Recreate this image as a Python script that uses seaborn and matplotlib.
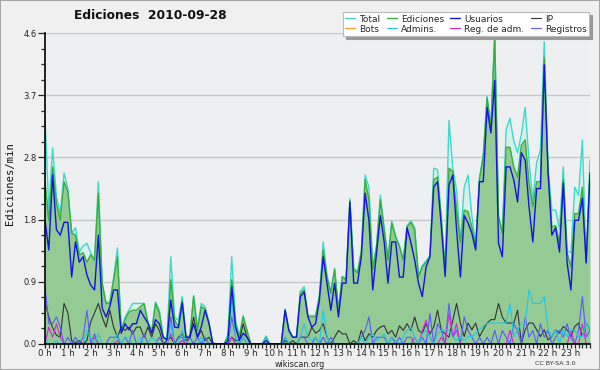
import numpy as np
import pandas as pd
import matplotlib
matplotlib.use("Agg")
import matplotlib.pyplot as plt
from matplotlib.patches import Rectangle
from matplotlib.ticker import FixedLocator, MultipleLocator
import seaborn as sns

# ---------------- data (one value every 10 minutes, 144 points) ----------------
hour_labels = [f"{h} h" for h in range(24)]

total = [3.35, 2.00, 2.90, 2.18, 1.93, 2.53, 2.30, 1.64, 1.72, 1.36,
         1.45, 1.49, 1.35, 1.24, 2.40, 0.90, 0.62, 0.62, 0.98, 1.42,
         0.20, 0.40, 0.50, 0.60, 0.60, 0.60, 0.60, 0.33, 0.20, 0.62,
         0.50, 0.12, 0.06, 1.29, 0.40, 0.35, 0.70, 0.12, 0.12, 0.72,
         0.22, 0.60, 0.55, 0.33, 0.02, 0.00, 0.00, 0.00, 0.15, 1.29,
         0.35, 0.12, 0.42, 0.20, 0.00, 0.00, 0.00, 0.00, 0.12, 0.00,
         0.00, 0.00, 0.00, 0.52, 0.22, 0.10, 0.12, 0.78, 0.85, 0.42,
         0.42, 0.42, 0.72, 1.51, 1.00, 0.78, 1.12, 0.52, 1.00, 0.97,
         2.15, 1.12, 1.07, 1.38, 2.50, 2.32, 1.12, 1.46, 2.20, 1.72,
         1.26, 1.82, 1.60, 1.46, 1.26, 1.75, 1.82, 1.72, 1.01, 1.16,
         1.23, 1.31, 2.60, 2.58, 1.86, 1.15, 3.31, 2.60, 2.28, 1.52,
         2.32, 2.50, 1.90, 1.46, 2.46, 2.80, 3.66, 3.23, 4.60, 1.90,
         1.66, 3.17, 3.34, 3.00, 2.83, 3.10, 3.50, 2.70, 2.13, 2.68,
         2.87, 4.47, 2.60, 1.98, 1.98, 1.70, 2.62, 1.38, 1.35, 2.32,
         2.20, 3.02, 1.22, 2.72]

ediciones = [2.40, 1.83, 2.62, 2.08, 1.83, 2.40, 2.25, 1.64, 1.61, 1.32,
             1.35, 1.21, 1.32, 1.24, 2.23, 0.90, 0.60, 0.60, 0.95, 1.29,
             0.20, 0.36, 0.47, 0.50, 0.50, 0.55, 0.60, 0.31, 0.16, 0.60,
             0.46, 0.10, 0.06, 0.95, 0.36, 0.25, 0.65, 0.10, 0.10, 0.70,
             0.20, 0.55, 0.52, 0.31, 0.01, 0.00, 0.00, 0.00, 0.10, 0.95,
             0.30, 0.10, 0.40, 0.20, 0.00, 0.00, 0.00, 0.00, 0.10, 0.00,
             0.00, 0.00, 0.00, 0.50, 0.20, 0.10, 0.10, 0.75, 0.80, 0.40,
             0.40, 0.40, 0.70, 1.39, 0.99, 0.75, 1.10, 0.50, 0.99, 0.95,
             2.12, 1.10, 1.05, 1.35, 2.43, 2.13, 1.10, 1.44, 2.13, 1.69,
             1.24, 1.79, 1.58, 1.44, 1.24, 1.73, 1.80, 1.69, 0.99, 1.14,
             1.21, 1.29, 2.43, 2.47, 1.83, 1.10, 2.60, 2.55, 1.98, 1.50,
             1.98, 1.96, 1.73, 1.44, 2.43, 2.77, 3.64, 3.21, 4.54, 1.88,
             1.64, 2.91, 2.91, 2.62, 2.47, 2.94, 3.02, 2.38, 2.03, 2.40,
             2.40, 4.23, 2.57, 1.73, 1.75, 1.49, 2.43, 1.35, 1.14, 1.93,
             1.93, 2.32, 1.20, 2.53]

usuarios = [1.83, 1.39, 2.50, 1.69, 1.61, 1.80, 1.80, 0.99, 1.51, 1.21,
            1.29, 1.02, 0.87, 0.80, 1.61, 0.53, 0.40, 0.55, 0.80, 0.80,
            0.16, 0.30, 0.21, 0.30, 0.30, 0.50, 0.40, 0.31, 0.16, 0.36,
            0.30, 0.10, 0.06, 0.65, 0.25, 0.24, 0.61, 0.10, 0.10, 0.30,
            0.10, 0.25, 0.50, 0.31, 0.01, 0.00, 0.00, 0.00, 0.05, 0.85,
            0.25, 0.06, 0.16, 0.10, 0.00, 0.00, 0.00, 0.00, 0.05, 0.00,
            0.00, 0.00, 0.00, 0.50, 0.20, 0.10, 0.10, 0.70, 0.77, 0.40,
            0.25, 0.30, 0.65, 1.29, 0.90, 0.50, 0.90, 0.40, 0.90, 0.90,
            2.10, 0.90, 0.90, 1.29, 2.23, 1.83, 0.80, 1.35, 1.90, 1.51,
            0.90, 1.51, 1.51, 0.99, 0.99, 1.72, 1.50, 1.24, 0.90, 0.70,
            1.14, 1.29, 2.32, 2.40, 1.73, 1.00, 2.35, 2.50, 1.69, 0.99,
            1.90, 1.79, 1.64, 1.39, 2.40, 2.40, 3.50, 3.12, 3.90, 1.49,
            1.29, 2.62, 2.62, 2.43, 2.10, 2.83, 2.72, 2.03, 1.51, 2.30,
            2.30, 4.13, 2.53, 1.61, 1.72, 1.36, 2.38, 1.20, 0.80, 1.83,
            1.83, 2.16, 1.20, 2.53]

ip = [0.62, 0.40, 0.24, 0.13, 0.10, 0.60, 0.46, 0.05, 0.02, 0.05,
      0.00, 0.05, 0.33, 0.46, 0.60, 0.40, 0.25, 0.50, 0.25, 0.10,
      0.25, 0.20, 0.25, 0.15, 0.25, 0.25, 0.10, 0.25, 0.10, 0.30,
      0.20, 0.00, 0.05, 0.10, 0.00, 0.10, 0.15, 0.05, 0.10, 0.40,
      0.10, 0.20, 0.05, 0.10, 0.00, 0.00, 0.00, 0.00, 0.00, 0.10,
      0.05, 0.05, 0.30, 0.10, 0.00, 0.00, 0.00, 0.00, 0.00, 0.00,
      0.00, 0.00, 0.00, 0.05, 0.00, 0.05, 0.00, 0.10, 0.10, 0.10,
      0.25, 0.16, 0.20, 0.30, 0.10, 0.00, 0.10, 0.20, 0.15, 0.15,
      0.00, 0.05, 0.00, 0.20, 0.05, 0.15, 0.10, 0.20, 0.25, 0.27,
      0.15, 0.20, 0.10, 0.27, 0.20, 0.30, 0.20, 0.40, 0.20, 0.16,
      0.30, 0.15, 0.25, 0.50, 0.20, 0.15, 0.10, 0.35, 0.60, 0.31,
      0.11, 0.31, 0.21, 0.31, 0.11, 0.21, 0.31, 0.36, 0.36, 0.60,
      0.40, 0.31, 0.31, 0.31, 0.50, 0.01, 0.21, 0.31, 0.31, 0.21,
      0.11, 0.21, 0.06, 0.11, 0.21, 0.16, 0.26, 0.21, 0.11, 0.26,
      0.31, 0.11, 0.31, 0.21]

admins = [0.10, 0.00, 0.00, 0.05, 0.00, 0.00, 0.00, 0.00, 0.00, 0.00,
          0.00, 0.20, 0.10, 0.00, 0.15, 0.00, 0.00, 0.00, 0.05, 0.15,
          0.00, 0.10, 0.10, 0.00, 0.00, 0.10, 0.00, 0.00, 0.10, 0.05,
          0.00, 0.00, 0.00, 0.30, 0.00, 0.00, 0.20, 0.00, 0.00, 0.00,
          0.00, 0.10, 0.00, 0.00, 0.00, 0.00, 0.00, 0.00, 0.05, 0.70,
          0.10, 0.00, 0.10, 0.00, 0.00, 0.00, 0.00, 0.00, 0.10, 0.00,
          0.00, 0.00, 0.00, 0.10, 0.00, 0.00, 0.00, 0.10, 0.30, 0.10,
          0.05, 0.10, 0.00, 0.50, 0.10, 0.00, 0.00, 0.00, 0.00, 0.00,
          0.00, 0.00, 0.00, 0.10, 0.00, 0.10, 0.15, 0.05, 0.10, 0.15,
          0.00, 0.10, 0.05, 0.00, 0.10, 0.20, 0.25, 0.10, 0.00, 0.15,
          0.20, 0.10, 0.00, 0.15, 0.20, 0.21, 0.21, 0.10, 0.05, 0.11,
          0.05, 0.11, 0.11, 0.15, 0.21, 0.26, 0.31, 0.31, 0.31, 0.31,
          0.31, 0.31, 0.60, 0.11, 0.21, 0.31, 0.31, 0.80, 0.60, 0.60,
          0.60, 0.70, 0.21, 0.11, 0.21, 0.01, 0.21, 0.11, 0.21, 0.21,
          0.11, 0.11, 0.31, 0.21]

reg_adm = [0.00, 0.25, 0.10, 0.30, 0.10, 0.00, 0.00, 0.00, 0.00, 0.00,
           0.00, 0.00, 0.00, 0.10, 0.00, 0.00, 0.00, 0.00, 0.00, 0.05,
           0.00, 0.00, 0.00, 0.00, 0.00, 0.00, 0.00, 0.00, 0.00, 0.00,
           0.00, 0.00, 0.00, 0.15, 0.00, 0.00, 0.05, 0.00, 0.00, 0.00,
           0.00, 0.00, 0.00, 0.00, 0.00, 0.00, 0.00, 0.00, 0.00, 0.10,
           0.00, 0.00, 0.00, 0.00, 0.00, 0.00, 0.00, 0.00, 0.00, 0.00,
           0.00, 0.00, 0.00, 0.00, 0.00, 0.00, 0.00, 0.00, 0.00, 0.00,
           0.00, 0.00, 0.00, 0.00, 0.00, 0.00, 0.00, 0.00, 0.00, 0.00,
           0.00, 0.00, 0.00, 0.00, 0.00, 0.00, 0.00, 0.00, 0.00, 0.00,
           0.00, 0.00, 0.00, 0.00, 0.00, 0.00, 0.00, 0.10, 0.00, 0.20,
           0.35, 0.10, 0.00, 0.00, 0.10, 0.00, 0.45, 0.10, 0.30, 0.00,
           0.00, 0.00, 0.00, 0.00, 0.00, 0.00, 0.00, 0.00, 0.00, 0.00,
           0.00, 0.00, 0.20, 0.00, 0.00, 0.00, 0.00, 0.00, 0.00, 0.00,
           0.00, 0.00, 0.00, 0.00, 0.00, 0.00, 0.00, 0.00, 0.20, 0.00,
           0.00, 0.30, 0.00, 0.00]

registros = [0.85, 0.30, 0.30, 0.40, 0.25, 0.00, 0.10, 0.00, 0.10, 0.00,
             0.10, 0.50, 0.00, 0.15, 0.00, 0.00, 0.00, 0.10, 0.10, 0.10,
             0.00, 0.10, 0.00, 0.20, 0.00, 0.00, 0.15, 0.00, 0.00, 0.00,
             0.10, 0.00, 0.00, 0.40, 0.00, 0.10, 0.10, 0.00, 0.10, 0.00,
             0.10, 0.00, 0.10, 0.00, 0.00, 0.00, 0.00, 0.00, 0.00, 0.40,
             0.10, 0.00, 0.10, 0.00, 0.00, 0.00, 0.00, 0.00, 0.00, 0.00,
             0.00, 0.00, 0.00, 0.10, 0.00, 0.00, 0.00, 0.10, 0.10, 0.00,
             0.00, 0.10, 0.00, 0.10, 0.00, 0.10, 0.00, 0.00, 0.00, 0.00,
             0.00, 0.00, 0.00, 0.10, 0.20, 0.40, 0.00, 0.10, 0.10, 0.10,
             0.00, 0.10, 0.00, 0.10, 0.00, 0.10, 0.10, 0.00, 0.00, 0.10,
             0.00, 0.45, 0.00, 0.30, 0.20, 0.00, 0.60, 0.10, 0.20, 0.00,
             0.40, 0.20, 0.10, 0.00, 0.10, 0.00, 0.10, 0.00, 0.20, 0.00,
             0.20, 0.10, 0.00, 0.30, 0.20, 0.00, 0.40, 0.10, 0.20, 0.00,
             0.30, 0.10, 0.20, 0.00, 0.10, 0.20, 0.10, 0.30, 0.10, 0.00,
             0.20, 0.70, 0.10, 0.20]

bots = [0.0] * 144

# ---------------- styling ----------------
sns.set_theme(style="white")
plt.rcParams["font.family"] = ["DejaVu Sans"]

C_TOTAL = "#3fd8cc"
C_EDIC = "#3aae3a"
C_USU = "#1414dc"
C_IP = "#333333"
C_BOTS = "#ffa020"
C_ADM = "#22c8e6"
C_REGADM = "#dd22dd"
C_REG = "#5a5aff"

fig = plt.figure(figsize=(6.0, 3.7), dpi=100, facecolor="#f0f0f0")
fig.patches.append(Rectangle((0, 0), 1, 1, transform=fig.transFigure,
                             fill=False, edgecolor="#a8a8a8", lw=1.5))
ax = fig.add_axes([0.075, 0.0703, 0.9083, 0.8405])
ax.set_facecolor("#eeeff1")

idx = np.arange(len(total))
df = pd.DataFrame({"t": idx, "Total": total, "Ediciones": ediciones,
                   "Usuarios": usuarios, "IP": ip, "Bots": bots,
                   "Admins.": admins, "Reg. de adm.": reg_adm,
                   "Registros": registros})

ax.fill_between(df["t"], df["Total"], color="#d6f1ec", lw=0, zorder=1)
ax.fill_between(df["t"], df["Ediciones"], color="#94ca94", lw=0, zorder=1.1)

series = [("Total", C_TOTAL, 1.0, 2.0), ("Ediciones", C_EDIC, 1.0, 2.1),
          ("Bots", C_BOTS, 0.9, 0.5), ("IP", C_IP, 0.8, 2.2),
          ("Registros", C_REG, 0.8, 2.3), ("Reg. de adm.", C_REGADM, 0.8, 2.35),
          ("Admins.", C_ADM, 0.8, 2.4), ("Usuarios", C_USU, 1.0, 2.5)]
handles = {}
for name, col, lw, z in series:
    sns.lineplot(data=df, x="t", y=name, ax=ax, color=col, lw=lw,
                 zorder=z, label=name, legend=False)
    handles[name] = ax.lines[-1]

ax.set_xlim(0, 143)
ax.set_ylim(0, 4.6)
yt = [0, 0.92, 1.84, 2.76, 3.68, 4.6]
ax.yaxis.set_major_locator(FixedLocator(yt))
ax.set_yticklabels(["0.0", "0.9", "1.8", "2.8", "3.7", "4.6"])
ax.yaxis.set_minor_locator(MultipleLocator(0.23))
ax.xaxis.set_major_locator(FixedLocator(np.arange(0, 144, 6)))
ax.set_xticklabels(hour_labels)
ax.xaxis.set_minor_locator(MultipleLocator(1))
ax.tick_params(axis="y", which="major", direction="out", length=5, width=0.9,
               labelsize=6, colors="#222222", pad=1, left=True)
ax.tick_params(axis="y", which="minor", direction="out", length=3, width=0.9,
               left=True)
ax.tick_params(axis="x", which="both", direction="out", length=3.2, width=0.9,
               labelsize=6.2, pad=0.3, bottom=True)
ax.grid(axis="y", which="major", color="#c8c8c8", lw=1)
ax.set_axisbelow(True)
for s in ["top", "right"]:
    ax.spines[s].set_visible(False)
for s in ["left", "bottom"]:
    ax.spines[s].set_color("black")
    ax.spines[s].set_linewidth(1.2)
ax.set_xlabel("")
ax.set_ylabel("")

fig.text(0.25, 0.957, "Ediciones  2010-09-28", ha="center", va="center",
         fontsize=8.8, fontweight="bold", color="#111111")
fig.text(0.017, 0.503, "Ediciones/min", rotation=90, ha="center", va="center",
         fontsize=7.6, family="DejaVu Sans Mono", color="#111111")
fig.text(0.5, 0.016, "wikiscan.org", ha="center", va="center", fontsize=5.8,
         color="#222222")
fig.text(0.925, 0.018, "CC BY-SA 3.0", ha="center", va="center", fontsize=4.6,
         color="#333333")

order = ["Total", "Bots", "Ediciones", "Admins.", "Usuarios", "Reg. de adm.",
         "IP", "Registros"]
leg = fig.legend([handles[n] for n in order], order, ncol=4,
                 loc="upper right", bbox_to_anchor=(0.982, 0.968),
                 fontsize=6.5, frameon=True, fancybox=False,
                 shadow={"color": "#9a9a9a", "alpha": 1.0, "ox": 2, "oy": -2},
                 handlelength=1.1, handletextpad=0.45, columnspacing=0.7,
                 labelspacing=0.12, borderpad=0.3, borderaxespad=0)
leg.get_frame().set_edgecolor("#bbbbbb")
leg.get_frame().set_linewidth(0.8)
leg.set_zorder(10)

fig.savefig("out.png", dpi=100, facecolor=fig.get_facecolor())
